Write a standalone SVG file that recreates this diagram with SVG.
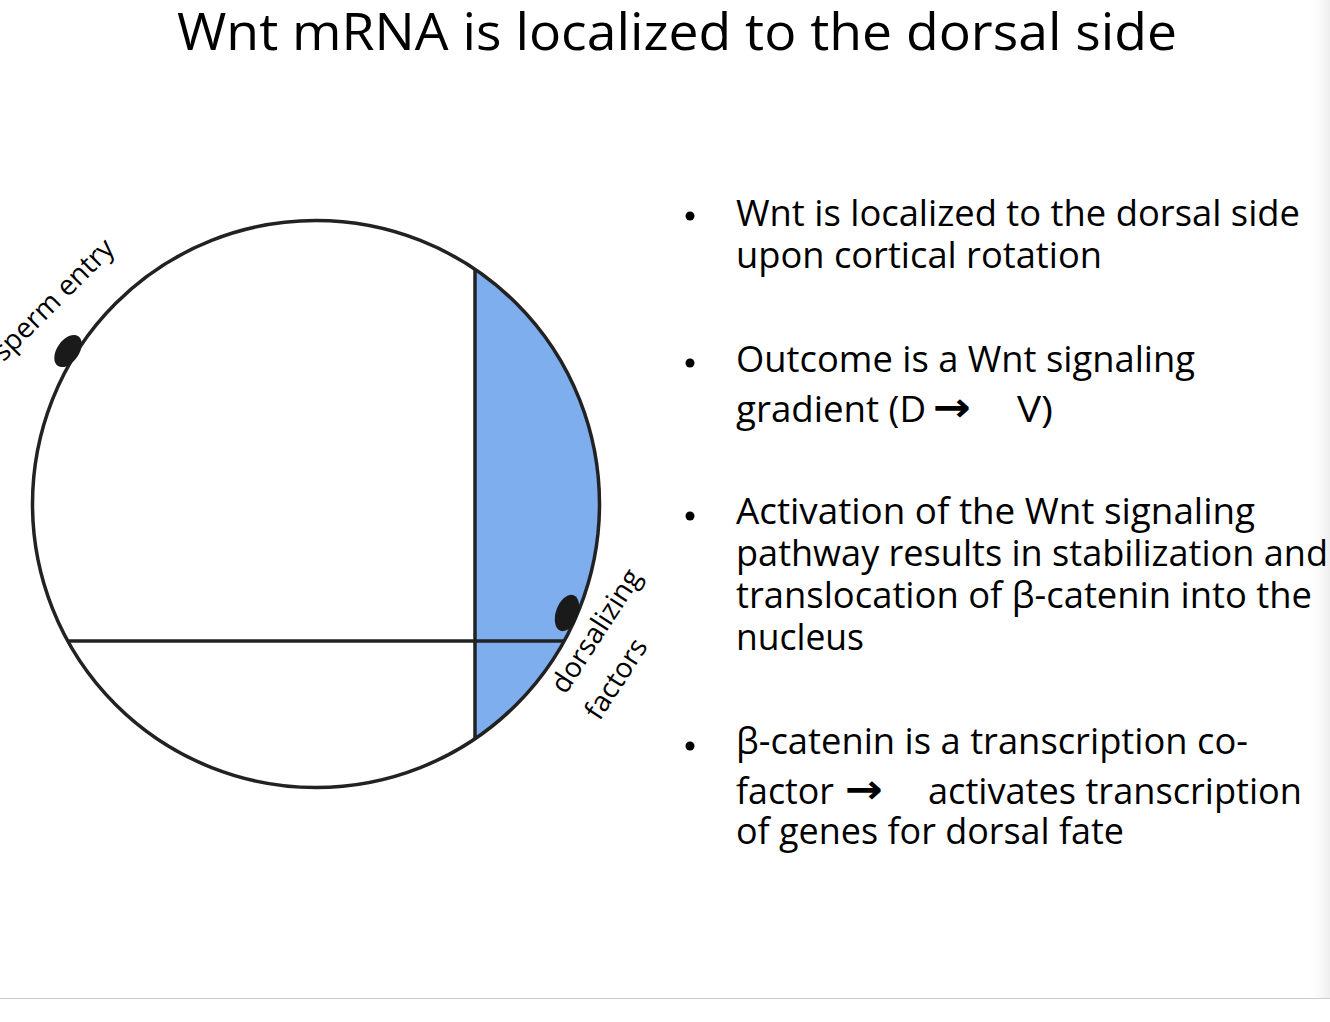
<svg xmlns="http://www.w3.org/2000/svg" width="1330" height="1022" viewBox="0 0 1330 1022">
<style>
text{font-family:"Open Sans","Liberation Sans",sans-serif;fill:#000}
.b{font-size:36px}
.l{font-size:28px}
.ar{font-family:"DejaVu Sans",sans-serif;font-size:40px;font-weight:bold}
.ln{stroke:#222;stroke-width:3.5;fill:none}
</style>
<defs><linearGradient id="sh" x1="0" x2="1"><stop offset="0" stop-color="#fff" stop-opacity="0"/><stop offset="1" stop-color="#eee"/></linearGradient></defs>
<rect width="1330" height="1022" fill="#fff"/>
<rect x="1305" y="0" width="25" height="998" fill="url(#sh)"/>
<line x1="0" y1="998.5" x2="1330" y2="998.5" stroke="#ccc" stroke-width="1"/>
<text x="677" y="50" font-size="52" text-anchor="middle" textLength="1000" lengthAdjust="spacingAndGlyphs">Wnt mRNA is localized to the dorsal side</text>
<g id="embryo">
<path d="M475,270 A283.5,283.5 0 0 1 475,738 Z" fill="#7eaeee"/>
<circle cx="316" cy="504" r="283.5" class="ln"/>
<line x1="475" y1="270" x2="475" y2="738" class="ln"/>
<line x1="68" y1="641" x2="564" y2="641" class="ln"/>
<ellipse cx="68" cy="351" rx="11" ry="18" transform="rotate(35 68 351)" fill="#1a1a1a"/>
<ellipse cx="567" cy="613" rx="11" ry="19" transform="rotate(20 567 613)" fill="#1a1a1a"/>
</g>
<g id="labels">
<text class="l" x="116" y="250" text-anchor="end" transform="rotate(-45 116 250)">sperm entry</text>
<text class="l" x="604" y="636" text-anchor="middle" transform="rotate(-57 604 636)">dorsalizing</text>
<text class="l" x="624" y="684" text-anchor="middle" transform="rotate(-57 624 684)">factors</text>
</g>
<g id="bullets" class="b">
<circle cx="690" cy="216" r="4.5"/><circle cx="690" cy="363" r="4.5"/><circle cx="690" cy="516" r="4.5"/><circle cx="690" cy="746" r="4.5"/>
<text class="b" x="736" y="226" textLength="564" lengthAdjust="spacingAndGlyphs">Wnt is localized to the dorsal side</text>
<text class="b" x="736" y="268" textLength="366" lengthAdjust="spacingAndGlyphs">upon cortical rotation</text>
<text class="b" x="736" y="372" textLength="459" lengthAdjust="spacingAndGlyphs">Outcome is a Wnt signaling</text>
<text class="b" x="736" y="422" textLength="190" lengthAdjust="spacingAndGlyphs">gradient (D</text>
<text class="ar" x="933" y="421" textLength="38" lengthAdjust="spacingAndGlyphs">→</text>
<text class="b" x="1017" y="422" textLength="36" lengthAdjust="spacingAndGlyphs">V)</text>
<text class="b" x="736" y="524" textLength="519" lengthAdjust="spacingAndGlyphs">Activation of the Wnt signaling</text>
<text class="b" x="736" y="566" textLength="592" lengthAdjust="spacingAndGlyphs">pathway results in stabilization and</text>
<text class="b" x="736" y="608" textLength="576" lengthAdjust="spacingAndGlyphs">translocation of β-catenin into the</text>
<text class="b" x="736" y="650" textLength="128" lengthAdjust="spacingAndGlyphs">nucleus</text>
<text class="b" x="736" y="754" textLength="512" lengthAdjust="spacingAndGlyphs">β-catenin is a transcription co-</text>
<text class="b" x="736" y="804" textLength="98" lengthAdjust="spacingAndGlyphs">factor</text>
<text class="ar" x="845" y="803" textLength="38" lengthAdjust="spacingAndGlyphs">→</text>
<text class="b" x="928" y="804" textLength="374" lengthAdjust="spacingAndGlyphs">activates transcription</text>
<text class="b" x="736" y="844" textLength="388" lengthAdjust="spacingAndGlyphs">of genes for dorsal fate</text>
</g>
</svg>
